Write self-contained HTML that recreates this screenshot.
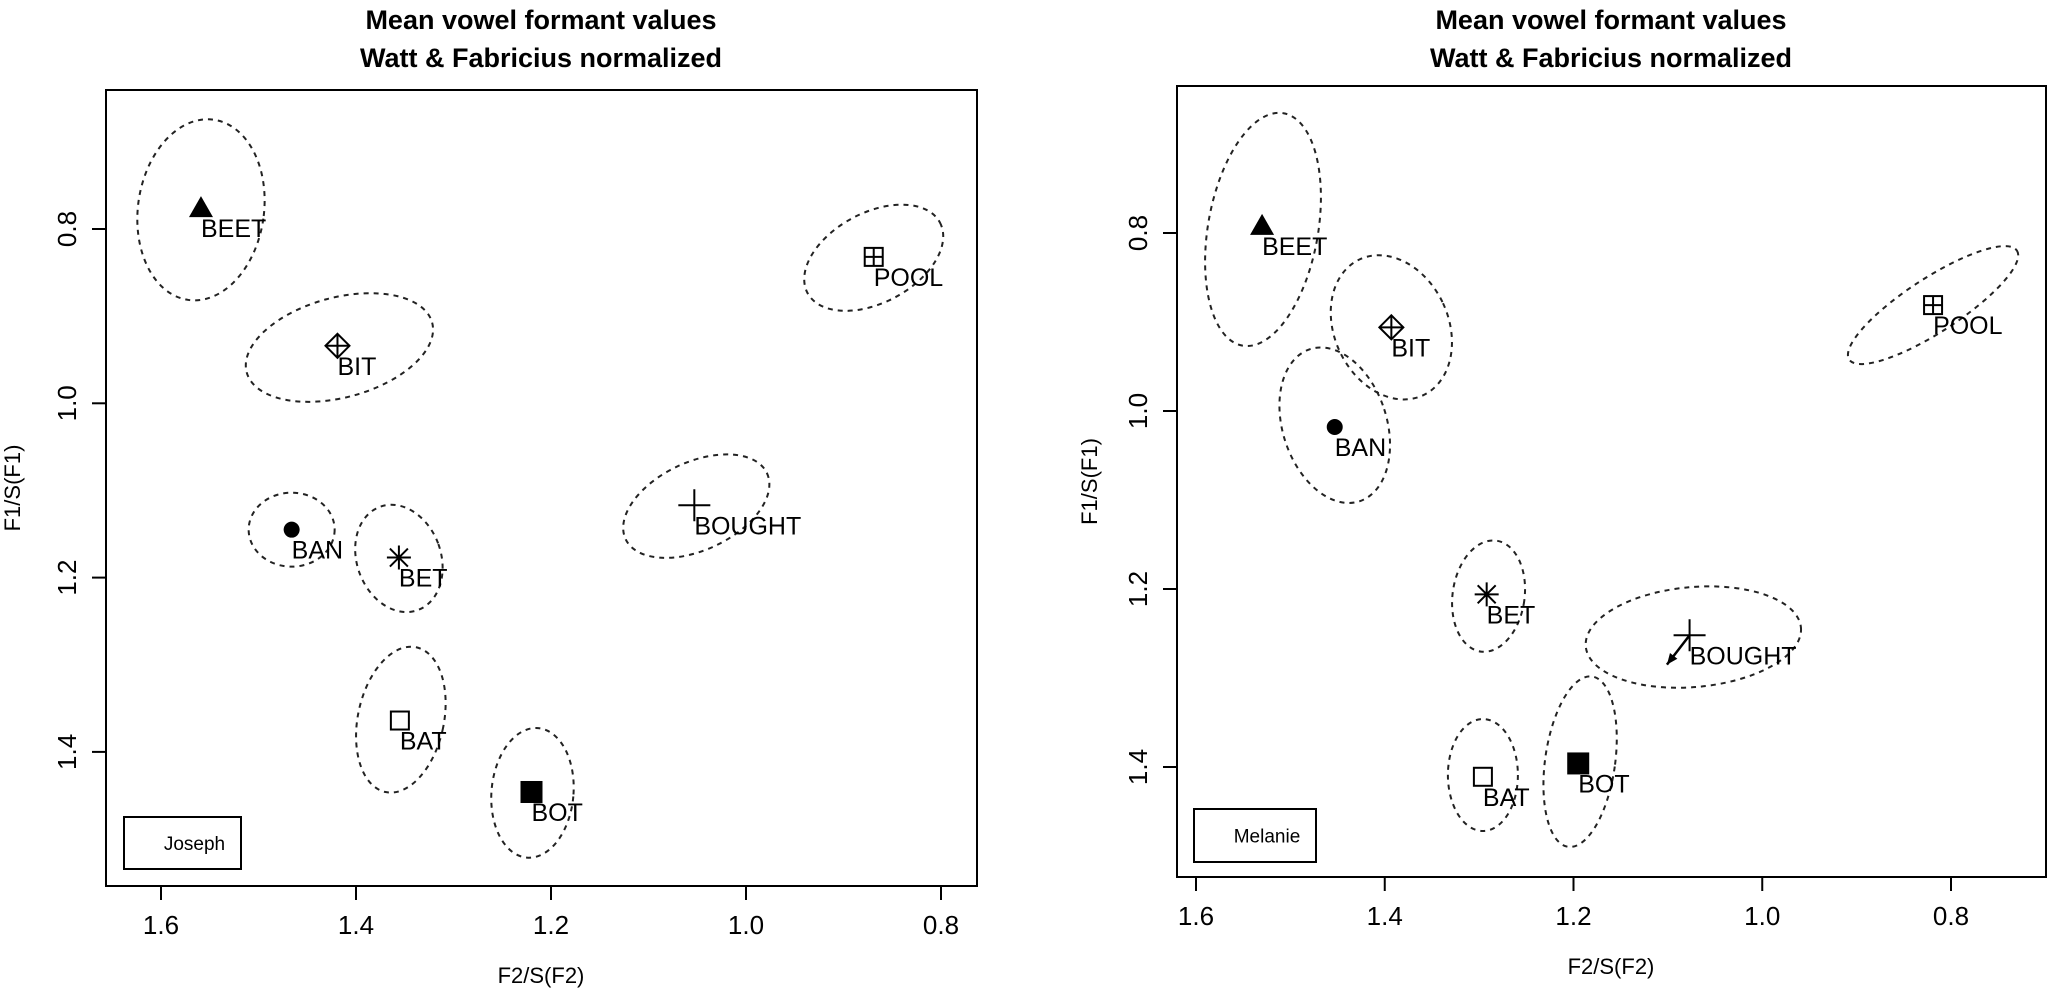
<!DOCTYPE html>
<html><head><meta charset="utf-8"><style>
html,body{margin:0;padding:0;background:#fff;}
svg{display:block;font-family:"Liberation Sans",Arial,sans-serif;}
</style></head><body>
<svg id="chart" width="2050" height="994" viewBox="0 0 2050 994" xmlns="http://www.w3.org/2000/svg"></svg>
<script>
// ---- data ----
const vowels = ["BEET","BIT","POOL","BAN","BET","BOUGHT","BAT","BOT"];
const symbols = ["tri","diamondplus","squareplus","circle","asterisk","plus","square","fsquare"];
const xTicks = [1.6,1.4,1.2,1.0,0.8];
const xTickLabels = ["1.6","1.4","1.2","1.0","0.8"];
const yTicks = [0.8,1.0,1.2,1.4];
const yTickLabels = ["0.8","1.0","1.2","1.4"];
// Joseph
const josephF2 = [1.559,1.419,0.869,1.466,1.356,1.053,1.355,1.220];
const josephF1 = [0.776,0.934,0.832,1.145,1.177,1.117,1.364,1.446];
const josephEllF2 = [1.559,1.417,0.869,1.466,1.356,1.051,1.354,1.219];
const josephEllF1 = [0.778,0.936,0.833,1.145,1.178,1.118,1.363,1.447];
const josephEllRx = [63,96,75,43,42,78,43,41];
const josephEllRy = [91,50,45,37,55,44,74,65];
const josephEllRot = [8,-15,-28,0,-20,-25,12,5];
// Melanie
const melanieF2 = [1.530,1.393,0.819,1.453,1.292,1.077,1.296,1.195];
const melanieF1 = [0.792,0.906,0.881,1.018,1.206,1.252,1.411,1.396];
const melanieEllF2 = [1.529,1.393,0.819,1.453,1.290,1.073,1.296,1.193];
const melanieEllF1 = [0.796,0.906,0.881,1.016,1.208,1.254,1.409,1.394];
const melanieEllRx = [55,57,100,52,36,108,35,35];
const melanieEllRy = [118,75,27,80,56,50,56,86];
const melanieEllRot = [10,-25,-33,-18,8,-5,0,8];
const melanieArrowEnd = [1.101,1.285];

const NS="http://www.w3.org/2000/svg";
const svg=document.getElementById('chart');
function mk(tag,attrs,parent){const e=document.createElementNS(NS,tag);for(const k in attrs)e.setAttribute(k,attrs[k]);(parent||svg).appendChild(e);return e;}

function panel(cfg){
  const g=mk('g',{});
  
  
  const X=v=>cfg.x0+(1.6-v)/0.2*cfg.xs;
  const Y=v=>cfg.y0+(v-0.8)/0.2*cfg.ys;
  // title
  const t1=mk('text',{x:cfg.cx,y:29,'text-anchor':'middle','font-size':27,'font-weight':'bold'},g);t1.textContent='Mean vowel formant values';
  
  
  const t2=mk('text',{x:cfg.cx,y:67,'text-anchor':'middle','font-size':27,'font-weight':'bold'},g);t2.textContent='Watt & Fabricius normalized';
  
  
  // box
  const box=mk('rect',{x:cfg.L,y:cfg.T,width:cfg.R-cfg.L,height:cfg.B-cfg.T,fill:'none',stroke:'#000','stroke-width':2},g);
  
  
  // x ticks
  xTicks.forEach((v,i)=>{
    const x=X(v);
    const tk=mk('line',{x1:x,x2:x,y1:cfg.B,y2:cfg.B+14,stroke:'#000','stroke-width':2},g);
    
    
    const tl=mk('text',{x:x,y:cfg.B+48,'text-anchor':'middle','font-size':26},g);tl.textContent=xTickLabels[i];
    
    
  });
  yTicks.forEach((v,i)=>{
    const y=Y(v);
    const tk=mk('line',{x1:cfg.L-14,x2:cfg.L,y1:y,y2:y,stroke:'#000','stroke-width':2},g);
    
    
    const tl=mk('text',{x:0,y:0,'text-anchor':'middle','font-size':26,transform:`translate(${cfg.L-30},${y}) rotate(-90)`},g);tl.textContent=yTickLabels[i];
    
    
  });
  const xt=mk('text',{x:cfg.cx,y:cfg.B+97,'text-anchor':'middle','font-size':22},g);xt.textContent='F2/S(F2)';
  
  
  const yt=mk('text',{x:0,y:0,'text-anchor':'middle','font-size':22,transform:`translate(${cfg.ytx},${(cfg.T+cfg.B)/2}) rotate(-90)`},g);yt.textContent='F1/S(F1)';
  
  
  // ellipses
  vowels.forEach((v,i)=>{
    const ex=X(cfg.eF2[i]), ey=Y(cfg.eF1[i]);
    const el=mk('ellipse',{cx:ex,cy:ey,rx:cfg.rx[i],ry:cfg.ry[i],fill:'none',stroke:'#222','stroke-width':2,'stroke-dasharray':'5 5',transform:`rotate(${cfg.rot[i]} ${ex} ${ey})`},g);
    
    
  });
  // points
  vowels.forEach((v,i)=>{
    const x=X(cfg.f2[i]), y=Y(cfg.f1[i]);
    const sg=mk('g',{stroke:'#000','stroke-width':2,fill:'none'},g);
    
    
    const s=symbols[i], h=10;
    if(s==='tri') mk('polygon',{points:`${x-12},${y+9} ${x+12},${y+9} ${x},${y-12}`,fill:'#000',stroke:'none'},sg);
    else if(s==='circle') mk('circle',{cx:x,cy:y,r:8,fill:'#000',stroke:'none'},sg);
    else if(s==='square') mk('rect',{x:x-h+1,y:y-h+1,width:2*h-2,height:2*h-2},sg);
    else if(s==='fsquare') mk('rect',{x:x-h-1,y:y-h-1,width:2*h+2,height:2*h+2,fill:'#000',stroke:'none'},sg);
    else if(s==='squareplus'){mk('rect',{x:x-h+1,y:y-h+1,width:2*h-2,height:2*h-2},sg);mk('path',{d:`M${x-h+1} ${y}H${x+h-1}M${x} ${y-h+1}V${y+h-1}`},sg);}
    else if(s==='diamondplus'){mk('polygon',{points:`${x},${y-12} ${x+12},${y} ${x},${y+12} ${x-12},${y}`},sg);mk('path',{d:`M${x-12} ${y}H${x+12}M${x} ${y-12}V${y+12}`},sg);}
    else if(s==='plus') mk('path',{d:`M${x-16} ${y}H${x+16}M${x} ${y-16}V${y+16}`},sg);
    else if(s==='asterisk') mk('path',{d:`M${x-12} ${y}H${x+12}M${x} ${y-12}V${y+12}M${x-9} ${y-9}L${x+9} ${y+9}M${x-9} ${y+9}L${x+9} ${y-9}`},sg);
    const lb=mk('text',{x:x,y:y+29,'font-size':25,fill:'#000'},g);lb.textContent=v;
    
    
  });
  if(cfg.arrow){
    const i=5;
    const x1=X(cfg.f2[i]),y1=Y(cfg.f1[i]),x2=X(cfg.arrow[0]),y2=Y(cfg.arrow[1]);
    const ag=mk('g',{},g);
    
    
    mk('line',{x1:x1,y1:y1,x2:x2,y2:y2,stroke:'#000','stroke-width':2.5},ag);
    const a=Math.atan2(y2-y1,x2-x1),L=12;
    mk('polygon',{points:`${x2},${y2} ${x2-L*Math.cos(a-0.4)},${y2-L*Math.sin(a-0.4)} ${x2-L*Math.cos(a+0.4)},${y2-L*Math.sin(a+0.4)}`,fill:'#000'},ag);
  }
  // legend
  const lg=mk('g',{},g);
  
  
  mk('rect',{x:cfg.leg[0],y:cfg.leg[1],width:cfg.leg[2],height:cfg.leg[3],fill:'#fff',stroke:'#000','stroke-width':2},lg);
  const lt=mk('text',{x:cfg.leg[0]+cfg.leg[2]/2+12,y:cfg.leg[1]+cfg.leg[3]/2+7,'text-anchor':'middle','font-size':19},lg);lt.textContent=cfg.speaker;
  
  
}

panel({name:'joseph',speaker:'Joseph',L:106,R:977,T:90,B:886,cx:541,x0:161,xs:195,y0:229,ys:174.3,ytx:20,
  f2:josephF2,f1:josephF1,eF2:josephEllF2,eF1:josephEllF1,rx:josephEllRx,ry:josephEllRy,rot:josephEllRot,leg:[124,817,117,52]});
panel({name:'melanie',speaker:'Melanie',L:1177,R:2046,T:86,B:877,cx:1611,x0:1196,xs:188.75,y0:233,ys:178,ytx:1097,
  f2:melanieF2,f1:melanieF1,eF2:melanieEllF2,eF1:melanieEllF1,rx:melanieEllRx,ry:melanieEllRy,rot:melanieEllRot,leg:[1194,809,122,53],arrow:melanieArrowEnd});
</script>
</body></html>
